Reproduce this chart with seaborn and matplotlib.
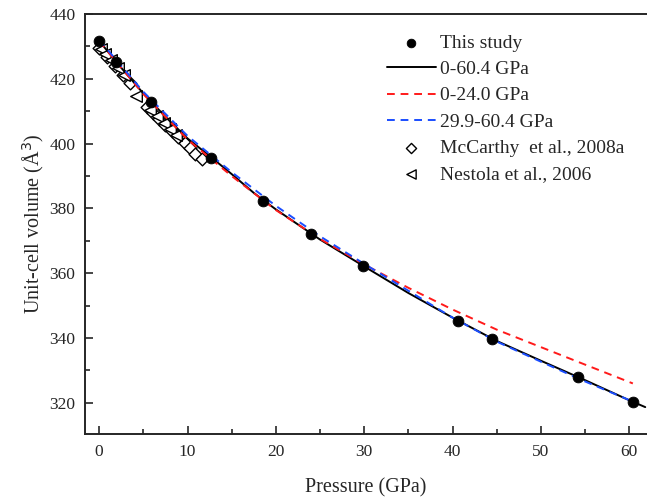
import numpy as np
import pandas as pd
import matplotlib
matplotlib.use("Agg")
import matplotlib.pyplot as plt
import seaborn as sns

# ---- data ----
study_p = [0.0, 1.9, 5.9, 12.7, 18.6, 24.0, 29.9, 40.6, 44.5, 54.2, 60.4]
study_v = [431.7, 425.3, 412.7, 395.7, 382.3, 372.2, 362.3, 345.4, 339.7, 328.0, 320.2]

fit_all_p = [0, 2.5, 5, 7.5, 10, 12.5, 15, 17.5, 20, 25, 30, 35, 40, 45, 50, 55, 60, 61.8]
fit_all_v = [431.7, 423.4, 415.5, 408.3, 401.6, 396.2, 390.6, 384.8, 379.7, 370.4, 362.1,
             353.9, 346.3, 339.1, 333.0, 327.0, 320.8, 318.7]

fit_low_p = [0, 5, 10, 15, 20, 25, 30, 35, 40, 45, 50, 55, 60.4]
fit_low_v = [431.6, 415.3, 401.3, 390.0, 379.5, 370.6, 362.7, 355.5, 348.8, 342.6, 337.2, 331.8, 326.0]

fit_high_p = [0, 5, 10, 15, 20, 25, 30, 35, 40, 45, 50, 55, 60.4]
fit_high_v = [432.0, 416.0, 402.4, 391.2, 380.8, 371.4, 362.9, 354.6, 346.3, 338.9, 332.7, 326.6, 320.4]

mccarthy_p = [0.0, 0.9, 1.8, 2.7, 3.5, 5.4, 6.1, 6.8, 7.5, 8.2, 8.9, 9.7, 10.3, 10.9, 11.6]
mccarthy_v = [429.5, 426.8, 424.0, 421.2, 418.6, 411.3, 409.5, 407.7, 405.8, 404.0,
              402.2, 400.2, 398.6, 396.9, 395.2]

nestola_p = [0.2, 0.7, 1.3, 2.1, 2.8, 4.2, 5.8, 6.5, 7.3, 8.0, 8.7]
nestola_v = [429.2, 427.7, 425.8, 423.3, 421.2, 414.7, 410.3, 408.5, 406.5, 404.6, 402.8]

labels = ["This study", "0-60.4 GPa", "0-24.0 GPa", "29.9-60.4 GPa",
          "McCarthy  et al., 2008a", "Nestola et al., 2006"]

# ---- style ----
sns.set_style("ticks")
plt.rcParams["font.family"] = ["Liberation Serif", "DejaVu Serif"]
plt.rcParams["xtick.direction"] = "in"
plt.rcParams["ytick.direction"] = "in"

fig = plt.figure(figsize=(6.47, 4.99), dpi=100)
ax = fig.add_axes([85 / 647, 65 / 499, 562 / 647, 420 / 499])

sns.lineplot(x=fit_all_p, y=fit_all_v, ax=ax, color="black", lw=1.4, sort=True,
             label=labels[1], zorder=3)
sns.lineplot(x=fit_low_p, y=fit_low_v, ax=ax, color="#ff1a1a", lw=1.4, sort=True,
             label=labels[2], zorder=4)
sns.lineplot(x=fit_high_p, y=fit_high_v, ax=ax, color="#1a4dff", lw=1.4, sort=True,
             label=labels[3], zorder=4)
for ln in ax.get_lines()[1:3]:
    ln.set_linestyle((0, (4, 3)))

sns.scatterplot(x=mccarthy_p, y=mccarthy_v, ax=ax, marker="D", s=42,
                facecolor="white", edgecolor="black", linewidth=1.0,
                label=labels[4], zorder=2)
sns.scatterplot(x=nestola_p, y=nestola_v, ax=ax, marker="<", s=70,
                facecolor="white", edgecolor="black", linewidth=1.0,
                label=labels[5], zorder=2)
sns.scatterplot(x=study_p, y=study_v, ax=ax, marker="o", s=60, color="black",
                edgecolor="black", label=labels[0], zorder=5)

ax.set_xlim(-1.6, 62.0)
ax.set_ylim(310.4, 440)
ax.set_xticks([0, 10, 20, 30, 40, 50, 60])
ax.set_xticks(np.arange(5, 62, 10), minor=True)
ax.set_yticks([320, 340, 360, 380, 400, 420, 440])
ax.set_yticks(np.arange(330, 440, 20), minor=True)
ax.tick_params(which="major", length=6, width=1.2, labelsize=12.5, pad=7)
ax.tick_params(which="minor", length=3.5, width=1.2)
ax.tick_params(axis="y", which="both", left=True, right=False)
ax.tick_params(axis="x", which="both", bottom=True, top=False)
for s in ["left", "bottom", "top"]:
    ax.spines[s].set_linewidth(1.4)
    ax.spines[s].set_visible(True)
ax.spines["right"].set_visible(False)

ax.set_xlabel("Pressure (GPa)", fontsize=14.5, labelpad=13)
ax.set_ylabel("Unit-cell volume (Å$^3$)", fontsize=14.5, labelpad=2)

handles, labs = ax.get_legend_handles_labels()
order = [labs.index(l) for l in labels]
leg = ax.legend([handles[i] for i in order], [labs[i] for i in order],
                loc="upper left", bbox_to_anchor=(387 / 647, 1 - 34 / 499),
                bbox_transform=fig.transFigure, frameon=False, fontsize=14,
                handlelength=2.5, handletextpad=0.2, labelspacing=0.45,
                borderpad=0, borderaxespad=0, markerscale=0.8)

fig.savefig("out.png", dpi=100)
